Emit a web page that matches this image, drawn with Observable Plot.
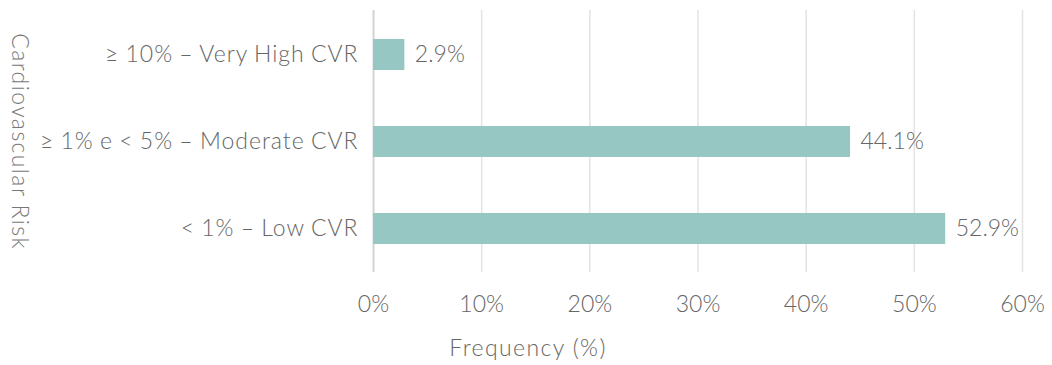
<!DOCTYPE html>
<html>
<head>
<meta charset="utf-8">
<script src="https://cdn.jsdelivr.net/npm/d3@7"></script>
<script src="https://cdn.jsdelivr.net/npm/@observablehq/plot@0.6"></script>
<style>
  html, body { margin: 0; padding: 0; background: #fff; }
  #chart svg { font-family: Lato, "Open Sans", sans-serif; font-weight: 300; }
  /* word labels are set a little wider than the numbers */
  #chart g[aria-label="y-axis tick label"] text { letter-spacing: 1px; word-spacing: -1px; }
  #chart g[aria-label="axis title"] text,
  #chart text[aria-label="axis title"] { letter-spacing: 1.4px; }
</style>
</head>
<body>
<div id="chart"></div>
<script>
// Cardiovascular risk categories, top to bottom
const categories = [
  "≥ 10% – Very High CVR",
  "≥ 1% e < 5% – Moderate CVR",
  "< 1% – Low CVR"
];
const frequencies = [2.9, 44.1, 52.9];
const xTicks = [0, 10, 20, 30, 40, 50, 60];
const xTitle = "Frequency (%)";
const yTitle = "Cardiovascular Risk";

const rows = categories.map((c, i) => ({category: c, value: frequencies[i]}));

const chart = Plot.plot({
  width: 1052,
  height: 365,
  marginTop: 10,
  marginBottom: 93,
  marginLeft: 373,
  marginRight: 30,
  style: {fontSize: "23px", fontFamily: "Lato, sans-serif", fontWeight: 300, color: "#666"},
  x: {domain: [0, 60], ticks: xTicks, label: null},
  y: {domain: categories, paddingInner: 0.646, paddingOuter: 0.323, label: null},
  marks: [
    Plot.gridX(xTicks.filter(t => t > 0), {stroke: "#e3e3e3", strokeOpacity: 1, strokeWidth: 1.5}),
    Plot.ruleX([0], {stroke: "#d4d4d4", strokeWidth: 2}),
    Plot.barX(rows, {x: "value", y: "category", fill: "#96c7c3"}),
    Plot.text(rows, {
      x: "value", y: "category", text: d => d.value.toFixed(1) + "%",
      textAnchor: "start", dx: 10, fill: "#666", fontSize: 23
    }),
    Plot.axisX({ticks: xTicks, tickSize: 0, tickPadding: 23, tickFormat: d => d + "%",
      fill: "#666", fontSize: 23, label: null}),
    Plot.axisY({tickSize: 0, tickPadding: 15, fill: "#666", fontSize: 23, label: null}),
    Plot.text([xTitle], {frameAnchor: "bottom", textAnchor: "middle", lineAnchor: "middle",
      dx: -170, dy: 76, fill: "#666", fontSize: 23}),
    Plot.text([yTitle], {frameAnchor: "left", textAnchor: "middle", lineAnchor: "middle",
      dx: -354, rotate: 90, fill: "#777", fontSize: 23})
  ]
});

// widen the two axis titles like the category labels
d3.select(chart).selectAll("text")
  .filter(function () { return this.textContent === xTitle || this.textContent === yTitle; })
  .style("letter-spacing", "1.4px");

document.getElementById("chart").appendChild(chart);
</script>
</body>
</html>
